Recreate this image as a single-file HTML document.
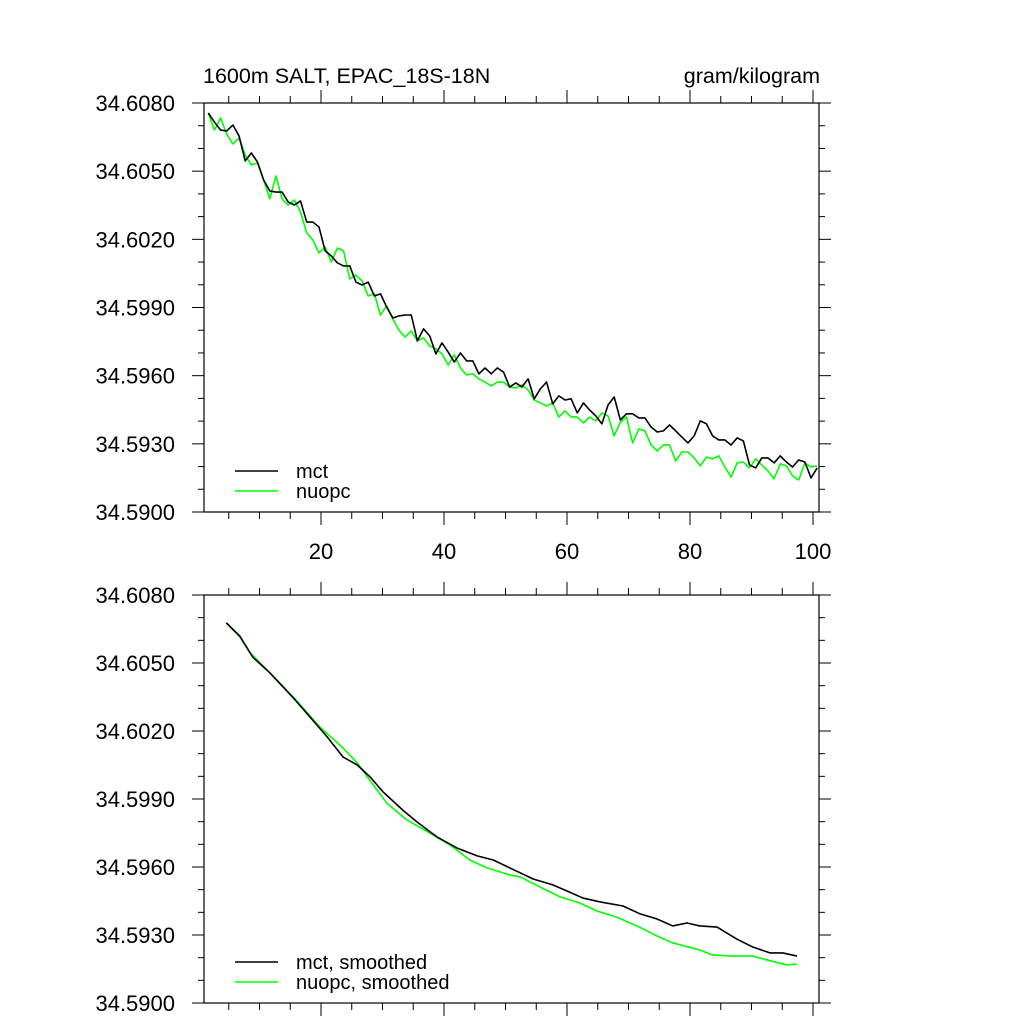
<!DOCTYPE html>
<html><head><meta charset="utf-8"><style>
html,body{margin:0;padding:0;background:#fff;}
svg{display:block;font-family:"Liberation Sans",sans-serif;}
</style></head><body>
<svg id="chart" width="1024" height="1024" viewBox="0 0 1024 1024" xmlns="http://www.w3.org/2000/svg">
<text x="203" y="83" font-size="21.5">1600m SALT, EPAC_18S-18N</text>
<text x="820" y="83" font-size="21.5" text-anchor="end">gram/kilogram</text>
<g id="p1"></g>
<g id="p2"></g>
</svg>
<script>
const yTicks = [34.608, 34.605, 34.602, 34.599, 34.596, 34.593, 34.590];
const yTickLabels = ["34.6080","34.6050","34.6020","34.5990","34.5960","34.5930","34.5900"];
const xTicks = [20, 40, 60, 80, 100];
const xTickLabels = ["20","40","60","80","100"];
const xStart = 2;
const mct = [34.60756,34.60716,34.60681,34.60677,34.60703,34.60655,34.60545,34.60580,34.60540,34.60461,
34.60413,34.60408,34.60408,34.60364,34.60351,34.60369,34.60276,34.60276,34.60254,34.60149,
34.60127,34.60096,34.60083,34.60083,34.60012,34.59999,34.60012,34.59951,34.59960,34.59902,
34.59854,34.59863,34.59867,34.59867,34.59753,34.59806,34.59775,34.59696,34.59744,34.59704,
34.59660,34.59700,34.59665,34.59665,34.59608,34.59634,34.59608,34.59634,34.59616,34.59550,
34.59568,34.59550,34.59586,34.59498,34.59542,34.59572,34.59476,34.59511,34.59493,34.59498,
34.59436,34.59480,34.59449,34.59423,34.59388,34.59471,34.59506,34.59405,34.59432,34.59432,
34.59414,34.59414,34.59374,34.59352,34.59357,34.59383,34.59357,34.59330,34.59304,34.59335,
34.59401,34.59388,34.59335,34.59317,34.59317,34.59295,34.59326,34.59313,34.59207,34.59194,
34.59238,34.59238,34.59216,34.59247,34.59220,34.59198,34.59229,34.59220,34.59150,34.59194];
const nuopc = [34.60756,34.60681,34.60734,34.60664,34.60620,34.60646,34.60571,34.60527,34.60536,34.60461,
34.60378,34.60479,34.60378,34.60351,34.60373,34.60320,34.60228,34.60197,34.60140,34.60166,
34.60100,34.60162,34.60149,34.60026,34.60043,34.60017,34.59951,34.59960,34.59867,34.59907,
34.59850,34.59801,34.59770,34.59797,34.59753,34.59766,34.59731,34.59718,34.59696,34.59647,
34.59691,34.59634,34.59603,34.59608,34.59586,34.59572,34.59555,34.59572,34.59572,34.59550,
34.59546,34.59559,34.59537,34.59493,34.59480,34.59467,34.59480,34.59418,34.59445,34.59418,
34.59418,34.59392,34.59418,34.59401,34.59436,34.59423,34.59335,34.59396,34.59418,34.59304,
34.59366,34.59357,34.59295,34.59269,34.59295,34.59295,34.59225,34.59264,34.59264,34.59238,
34.59203,34.59242,34.59234,34.59247,34.59198,34.59154,34.59216,34.59220,34.59194,34.59234,
34.59207,34.59181,34.59146,34.59212,34.59203,34.59159,34.59141,34.59216,34.59198,34.59203];
const mctSmX = [4.6,6.8,8.9,11.7,15.5,18.2,21.0,23.6,25.9,28.0,30.1,33.3,35.6,38.9,42.1,45.4,48.0,50.7,54.5,57.7,60.0,62.6,65.4,69.1,71.9,74.6,77.2,79.5,81.6,84.4,87.6,90.2,93.0,95.1,97.4];
const mctSm = [34.60677,34.60619,34.60526,34.60456,34.60346,34.60262,34.60174,34.60085,34.60050,34.59997,34.59931,34.59851,34.59799,34.59732,34.59684,34.59649,34.59631,34.59596,34.59547,34.59521,34.59494,34.59463,34.59446,34.59428,34.59393,34.59371,34.59340,34.59353,34.59340,34.59335,34.59282,34.59247,34.59221,34.59221,34.59207];
const nuopcSmX = [4.6,6.8,8.5,11.7,15.5,19.8,23.6,25.9,28.5,30.7,34.0,37.7,41.0,44.2,47.0,50.7,52.4,55.6,58.9,62.1,64.9,68.1,71.4,74.6,77.2,81.1,83.7,87.0,90.2,92.5,95.8,97.4];
const nuopcSm = [34.60677,34.60615,34.60544,34.60456,34.60350,34.60218,34.60125,34.60059,34.59962,34.59882,34.59807,34.59750,34.59697,34.59631,34.59596,34.59565,34.59556,34.59512,34.59468,34.59441,34.59406,34.59379,34.59340,34.59296,34.59265,34.59238,34.59212,34.59207,34.59207,34.59190,34.59168,34.59172];

const NS = "http://www.w3.org/2000/svg";
function mk(parent, tag, attrs){const e=document.createElementNS(NS,tag);for(const k in attrs)e.setAttribute(k,attrs[k]);parent.appendChild(e);return e;}
const L=204,R=819;
const xs = v => 198 + (v)*6.15;

function panel(g, top, bottom, showXLabels, series, legend, xOff){
  const ys = v => top + (34.608 - v)/(0.018)*(bottom-top);
  const fr = mk(g,'rect',{x:L,y:top,width:R-L,height:bottom-top,fill:'none',stroke:'#000','stroke-width':1.2});
  
  
  for(let k=0;k<=18;k++){
    const v=34.608-k*0.001, y=ys(v), major=(k%3===0);
    const len=major?12:6;
    mk(g,'line',{x1:L-len,y1:y,x2:L,y2:y,stroke:'#000','stroke-width':1});
    mk(g,'line',{x1:R,y1:y,x2:R+len,y2:y,stroke:'#000','stroke-width':1});
  }
  yTicks.forEach((v,i)=>{
    const t=mk(g,'text',{x:175,y:ys(v)+8,'font-size':22,'text-anchor':'end'});
    t.textContent=yTickLabels[i];
    
    
  });
  for(let v=5;v<=100;v+=5){
    const x=xs(v), major=(v%20===0), len=major?13:7;
    mk(g,'line',{x1:x,y1:bottom,x2:x,y2:bottom+len,stroke:'#000','stroke-width':1});
    mk(g,'line',{x1:x,y1:top-len,x2:x,y2:top,stroke:'#000','stroke-width':1});
  }
  if(showXLabels){
    xTicks.forEach((v,i)=>{
      const t=mk(g,'text',{x:xs(v),y:bottom+47,'font-size':22,'text-anchor':'middle'});
      t.textContent=xTickLabels[i];
      
      
    });
  }
  series.forEach(s=>{
    const pts=s.vals.map((v,i)=>(xs(s.xv[i])+xOff).toFixed(2)+','+ys(v).toFixed(2)).join(' ');
    const p=mk(g,'polyline',{points:pts,fill:'none',stroke:s.color,'stroke-width':1.6,'stroke-linejoin':'round'});
    
    
  });
  legend.forEach(l=>{
    const ln=mk(g,'line',{x1:235,y1:l.y,x2:278,y2:l.y,stroke:l.color,'stroke-width':1.6});
    
    
    const t=mk(g,'text',{x:296,y:l.y+7,'font-size':20});
    t.textContent=l.label;
    
    
  });
}
const idx = mct.map((_,i)=>xStart+i);
panel(document.getElementById('p1'),103,512,true,
 [{vals:nuopc,xv:idx,color:'#00ff00',name:'nuopc-line'},{vals:mct,xv:idx,color:'#000',name:'mct-line'}],
 [{y:471,color:'#000',label:'mct'},{y:491,color:'#00ff00',label:'nuopc'}], -2);
panel(document.getElementById('p2'),595,1003,false,
 [{vals:nuopcSm,xv:nuopcSmX,color:'#00ff00',name:'nuopc-smoothed-line'},{vals:mctSm,xv:mctSmX,color:'#000',name:'mct-smoothed-line'}],
 [{y:962,color:'#000',label:'mct, smoothed'},{y:982,color:'#00ff00',label:'nuopc, smoothed'}], 0);
</script>
</body></html>
